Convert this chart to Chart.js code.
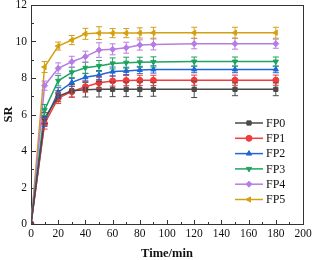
<!DOCTYPE html>
<html>
<head>
<meta charset="utf-8">
<script src="https://cdn.jsdelivr.net/npm/chart.js@4"></script>
<style>
  html, body { margin: 0; padding: 0; background: #ffffff; }
  #wrap { width: 313px; height: 260px; }
</style>
</head>
<body>
<div id="wrap"><canvas id="c" width="313" height="260"></canvas></div>
<script>
// ---- data ----
const times = [0, 10, 20, 30, 40, 50, 60, 70, 80, 90, 120, 150, 180];
const labels = ['FP0', 'FP1', 'FP2', 'FP3', 'FP4', 'FP5'];
const fp0 = [0, 5.8, 7.0, 7.3, 7.36, 7.38, 7.38, 7.38, 7.38, 7.38, 7.38, 7.38, 7.38];
const fp1 = [0, 5.5, 6.9, 7.25, 7.52, 7.74, 7.84, 7.86, 7.87, 7.87, 7.88, 7.88, 7.88];
const fp2 = [0, 5.6, 7.22, 7.76, 8.04, 8.16, 8.35, 8.39, 8.44, 8.47, 8.47, 8.47, 8.47];
const fp3 = [0, 6.25, 7.85, 8.31, 8.56, 8.66, 8.8, 8.84, 8.86, 8.88, 8.9, 8.9, 8.9];
const fp4 = [0, 7.58, 8.53, 8.89, 9.17, 9.53, 9.57, 9.66, 9.81, 9.84, 9.88, 9.88, 9.88];
const fp5 = [0, 8.6, 9.75, 10.08, 10.42, 10.46, 10.46, 10.46, 10.47, 10.48, 10.48, 10.48, 10.48];
const err0 = [0, 0.3, 0.3, 0.35, 0.4, 0.42, 0.4, 0.4, 0.4, 0.38, 0.45, 0.35, 0.35];
const err1 = [0, 0.3, 0.3, 0.3, 0.3, 0.3, 0.28, 0.28, 0.28, 0.28, 0.28, 0.28, 0.28];
const err2 = [0, 0.25, 0.25, 0.22, 0.2, 0.25, 0.25, 0.2, 0.2, 0.2, 0.18, 0.18, 0.18];
const err3 = [0, 0.3, 0.28, 0.28, 0.3, 0.3, 0.3, 0.3, 0.28, 0.28, 0.25, 0.25, 0.25];
const err4 = [0, 0.25, 0.3, 0.3, 0.3, 0.4, 0.3, 0.3, 0.28, 0.3, 0.28, 0.3, 0.25];
const err5 = [0, 0.3, 0.22, 0.25, 0.3, 0.35, 0.25, 0.25, 0.28, 0.3, 0.3, 0.3, 0.3];
const xTicks = [0, 20, 40, 60, 80, 100, 120, 140, 160, 180, 200];
const yTicks = [0, 2, 4, 6, 8, 10, 12];

const series = [fp0, fp1, fp2, fp3, fp4, fp5];
const errors = [err0, err1, err2, err3, err4, err5];
const colors = ['#4a4a4a', '#f03c3c', '#2166d6', '#1fa35f', '#b67de6', '#d4a013'];
const markers = ['rect', 'circle', 'triangle', 'triangle', 'rectRot', 'triangle'];
const rotations = [0, 0, 0, 180, 0, 270];

const SERIF = '"Liberation Serif", "DejaVu Serif", serif';
const AXIS = '#333333';
const TEXT = '#111111';

// box round the plot with inward ticks, drawn before the datasets (no clip active yet)
const frame = {
  id: 'frame',
  beforeDatasetsDraw(chart) {
    const ctx = chart.ctx, a = chart.chartArea, x = chart.scales.x, y = chart.scales.y;
    const L = Math.round(a.left), T = Math.round(a.top);
    const R = Math.round(a.right), B = Math.round(a.bottom);
    ctx.save();
    ctx.fillStyle = AXIS;
    ctx.fillRect(L, T, R - L + 1, 1);
    ctx.fillRect(L, B, R - L + 1, 1);
    ctx.fillRect(L, T, 1, B - T + 1);
    ctx.fillRect(R, T, 1, B - T + 1);
    for (let v = 10; v < 200; v += 10) {
      const px = Math.round(x.getPixelForValue(v));
      const len = v % 20 === 0 ? 4 : 2;
      ctx.fillRect(px, B - len, 1, len);
    }
    for (let v = 1; v < 12; v += 1) {
      const py = Math.round(y.getPixelForValue(v));
      const len = v % 2 === 0 ? 4 : 2;
      ctx.fillRect(L + 1, py, len, 1);
    }
    ctx.restore();
  }
};

const errorBars = {
  id: 'errorBars',
  afterDatasetsDraw(chart) {
    const ctx = chart.ctx, y = chart.scales.y;
    chart.data.datasets.forEach((ds, i) => {
      const meta = chart.getDatasetMeta(i);
      ctx.save();
      ctx.strokeStyle = ds.borderColor;
      ctx.lineWidth = 1;
      meta.data.forEach((pt, j) => {
        const e = errors[i][j];
        if (!e) return;
        const v = ds.data[j].y;
        const top = y.getPixelForValue(v + e), bot = y.getPixelForValue(v - e);
        ctx.beginPath();
        ctx.moveTo(pt.x, top); ctx.lineTo(pt.x, bot);
        ctx.moveTo(pt.x - 3, top); ctx.lineTo(pt.x + 3, top);
        ctx.moveTo(pt.x - 3, bot); ctx.lineTo(pt.x + 3, bot);
        ctx.stroke();
      });
      ctx.restore();
    });
  }
};

// legend inside the plot, lower right
const innerLegend = {
  id: 'innerLegend',
  afterDraw(chart) {
    const ctx = chart.ctx;
    ctx.save();
    ctx.font = '12px ' + SERIF;
    ctx.textBaseline = 'middle';
    chart.data.datasets.forEach((ds, i) => {
      const ly = 123 + i * 15.3;
      ctx.strokeStyle = ds.borderColor;
      ctx.fillStyle = ds.borderColor;
      ctx.lineWidth = 1.5;
      ctx.beginPath(); ctx.moveTo(235, ly); ctx.lineTo(263, ly); ctx.stroke();
      ctx.lineWidth = 1;
      Chart.helpers.drawPoint(ctx, { pointStyle: ds.pointStyle, radius: 3, rotation: ds.pointRotation, borderWidth: 1 }, 249, ly);
      ctx.fillStyle = TEXT;
      ctx.fillText(ds.label, 266, ly + 0.5);
    });
    ctx.restore();
  }
};

const datasets = series.map((s, i) => ({
  label: labels[i],
  data: times.map((t, j) => ({ x: t, y: s[j] })),
  borderColor: colors[i],
  backgroundColor: colors[i],
  borderWidth: 1.5,
  pointStyle: markers[i],
  pointRotation: rotations[i],
  pointRadius: 3,
  pointBorderWidth: 1,
  tension: 0
}));

new Chart(document.getElementById('c'), {
  type: 'line',
  data: { datasets },
  options: {
    responsive: false,
    animation: false,
    layout: { padding: { left: 0, right: 10, top: 5, bottom: 0 } },
    plugins: { legend: { display: false }, tooltip: { enabled: false } },
    scales: {
      x: {
        type: 'linear', min: 0, max: 200,
        afterBuildTicks: (s) => { s.ticks = xTicks.map(v => ({ value: v })); },
        afterFit: (s) => { s.height = 36; s.paddingLeft = 0; s.paddingRight = 0; },
        grid: { display: false, drawTicks: false },
        border: { display: false },
        ticks: { color: TEXT, font: { family: SERIF, size: 11.5 }, padding: 3, maxRotation: 0, autoSkip: false },
        title: { display: true, text: 'Time/min', color: TEXT, font: { family: SERIF, size: 12.5, weight: 'bold', lineHeight: 1 }, padding: { top: 4, bottom: 0 } }
      },
      y: {
        min: 0, max: 12,
        afterBuildTicks: (s) => { s.ticks = yTicks.map(v => ({ value: v })); },
        afterFit: (s) => { s.width = 31; s.paddingTop = 0; s.paddingBottom = 0; },
        grid: { display: false, drawTicks: false },
        border: { display: false },
        ticks: { color: TEXT, font: { family: SERIF, size: 11.5 }, padding: 4, autoSkip: false },
        title: { display: true, text: 'SR', color: TEXT, font: { family: SERIF, size: 12.5, weight: 'bold' }, padding: { top: 1, bottom: 0 } }
      }
    }
  },
  plugins: [frame, errorBars, innerLegend]
});
</script>
</body>
</html>
